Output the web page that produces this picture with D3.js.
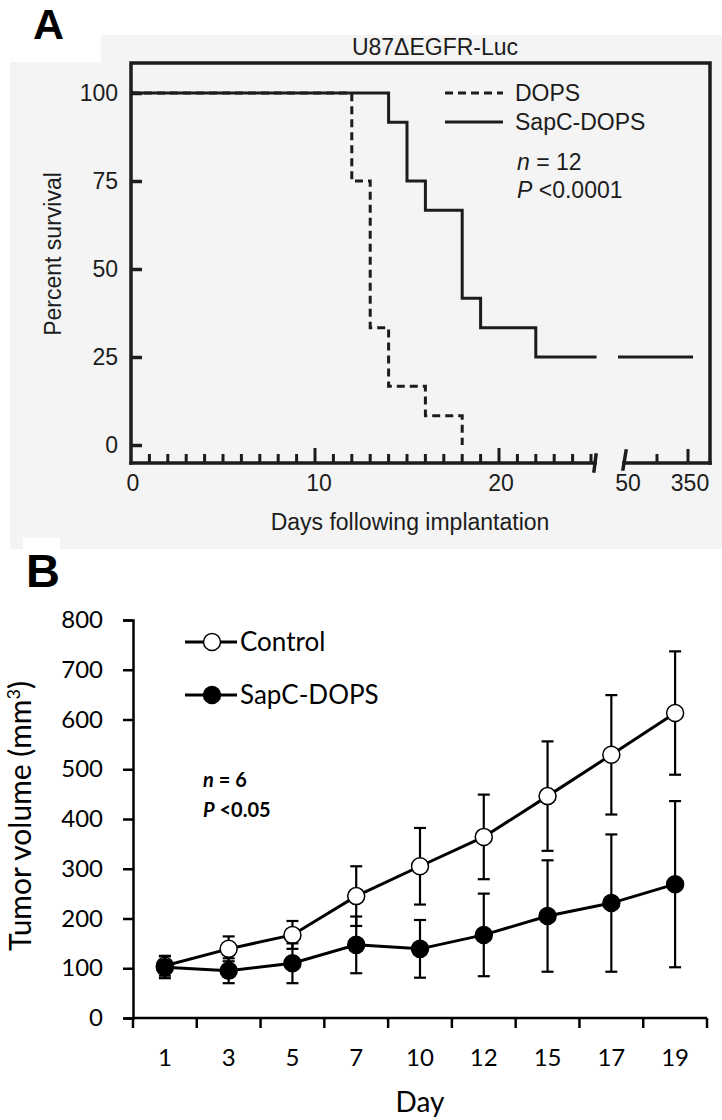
<!DOCTYPE html>
<html>
<head>
<meta charset="utf-8">
<script src="https://cdn.jsdelivr.net/npm/d3@7"></script>
<style>
  body { margin: 0; background: #fff; }
  svg { display: block; }
</style>
</head>
<body>
<div id="chart"></div>
<script>
// ---- panel A data (Kaplan-Meier) ----
const dopsDays = [0, 12, 13, 14, 16, 18];
const dopsSurv = [100, 75, 33.3, 16.7, 8.3, 0];
const sapcDays = [0, 14, 15, 16, 18, 19, 22];
const sapcSurv = [100, 91.7, 75, 66.7, 41.7, 33.3, 25];
const sapcTailEnd = 350;
const aYTicks = [0, 25, 50, 75, 100];
const aXLabels = [0, 10, 20];
const aXLabels2 = [50, 350];
const aXMinor2 = [200];

// ---- panel B data (tumor volume) ----
const days = ["1", "3", "5", "7", "10", "12", "15", "17", "19"];
const controlMean = [105, 139, 167, 245, 305, 364, 446, 529, 613];
const controlErr = [20, 25, 28, 60, 77, 85, 110, 120, 124];
const sapcMean = [102, 95, 110, 147, 139, 167, 205, 231, 269];
const sapcErr = [22, 25, 40, 57, 58, 83, 112, 138, 167];
const bYTicks = d3.range(0, 801, 100);

const W = 722, H = 1120;
const svg = d3.select("#chart").append("svg")
    .attr("width", W)
    .attr("height", H);

const fontA = "'Liberation Sans', Arial, sans-serif";
const fontB = "Lato, 'Open Sans', sans-serif";
const ink = "#1c1c1c";

// ================= Panel A =================
svg.append("rect").attr("x", 10).attr("y", 35).attr("width", 712).attr("height", 514).attr("fill", "#f4f4f4");
svg.append("rect").attr("x", 0).attr("y", 0).attr("width", 101).attr("height", 62).attr("fill", "#fff");
svg.append("rect").attr("x", 23).attr("y", 538).attr("width", 37).attr("height", 12).attr("fill", "#fff");

svg.append("text")
    .attr("x", 33).attr("y", 39)
    .attr("font-family", "'Liberation Sans Narrow', 'Liberation Sans', Arial, sans-serif")
    .attr("font-weight", "bold").attr("font-size", 43)
    .text("A");

const aLeft = 131, aRight = 710, aTop = 63, aBottom = 463;
const x1 = d3.scaleLinear().domain([0, 25]).range([aLeft, 591]);
const x2 = d3.scaleLinear().domain([50, 350]).range([626, 688]);
const yA = d3.scaleLinear().domain([0, 100]).range([445, 93]);

const gA = svg.append("g").attr("fill", ink);

// title
gA.append("text")
    .attr("x", 435).attr("y", 55)
    .attr("text-anchor", "middle")
    .attr("font-family", fontA).attr("font-size", 23)
    .text("U87\u0394EGFR-Luc");

// frame
const frame = gA.append("g").attr("stroke", ink).attr("stroke-width", 3.5).attr("fill", "none").attr("stroke-linecap", "square");
frame.append("path").attr("d", `M${aLeft},${aBottom}V${aTop}H${aRight}V${aBottom}`);
frame.append("line").attr("x1", aLeft).attr("x2", 595).attr("y1", aBottom).attr("y2", aBottom);
frame.append("line").attr("x1", 624).attr("x2", aRight).attr("y1", aBottom).attr("y2", aBottom);
// axis break marks
frame.append("line").attr("x1", 594).attr("x2", 596).attr("y1", 471).attr("y2", 455);
frame.append("line").attr("x1", 623).attr("x2", 626).attr("y1", 469).attr("y2", 451);

// y axis (ticks pointing inward)
const yAxisA = d3.axisLeft(yA).tickValues(aYTicks).tickSize(-11).tickPadding(13);
const gy = gA.append("g").attr("transform", `translate(${aLeft},0)`).call(yAxisA);
gy.select(".domain").remove();
gy.selectAll(".tick line").attr("stroke", ink).attr("stroke-width", 3.5);
gy.selectAll(".tick text").attr("font-family", fontA).attr("font-size", 23).attr("fill", ink);

// x minor / major ticks (inward)
gA.append("g").selectAll("line")
  .data(d3.range(1, 26))
  .join("line")
    .attr("x1", d => x1(d)).attr("x2", d => x1(d))
    .attr("y1", aBottom).attr("y2", d => d % 10 === 0 ? aBottom - 15 : aBottom - 9)
    .attr("stroke", ink).attr("stroke-width", 3);
gA.append("g").selectAll("line")
  .data(aXMinor2.concat([350]))
  .join("line")
    .attr("x1", d => x2(d)).attr("x2", d => x2(d))
    .attr("y1", aBottom).attr("y2", d => d === 350 ? aBottom - 14 : aBottom - 9)
    .attr("stroke", ink).attr("stroke-width", 3);

gA.append("g").selectAll("text")
  .data(aXLabels.map(d => ({v: d, x: x1(d)})).concat(aXLabels2.map(d => ({v: d, x: x2(d)}))))
  .join("text")
    .attr("x", d => d.x + (d.v === 10 ? 4 : 2)).attr("y", 491)
    .attr("text-anchor", "middle")
    .attr("font-family", fontA).attr("font-size", 23)
    .text(d => d.v);

gA.append("text")
    .attr("x", 410).attr("y", 530)
    .attr("text-anchor", "middle")
    .attr("font-family", fontA).attr("font-size", 23)
    .text("Days following implantation");

gA.append("text")
    .attr("transform", "translate(61,254) rotate(-90)")
    .attr("text-anchor", "middle")
    .attr("font-family", fontA).attr("font-size", 23)
    .text("Percent survival");

// survival curves
const stepLine = d3.line().x(d => x1(d[0])).y(d => yA(d[1])).curve(d3.curveStepAfter);
const dopsPts = dopsDays.map((d, i) => [d, dopsSurv[i]]);
const sapcPts = sapcDays.map((d, i) => [d, sapcSurv[i]]).concat([[25.3, 25]]);

gA.append("path")
    .attr("d", stepLine(dopsPts))
    .attr("fill", "none").attr("stroke", ink).attr("stroke-width", 3)
    .attr("stroke-dasharray", "8,5");
gA.append("path")
    .attr("d", stepLine(sapcPts))
    .attr("fill", "none").attr("stroke", ink).attr("stroke-width", 3);
gA.append("line")
    .attr("x1", x2(50) - 8).attr("x2", x2(sapcTailEnd) + 5)
    .attr("y1", yA(25)).attr("y2", yA(25))
    .attr("stroke", ink).attr("stroke-width", 3);

// legend A
const legA = [
  {label: "DOPS", dash: "8,5", y: 93},
  {label: "SapC-DOPS", dash: null, y: 122}
];
const lg = gA.append("g").selectAll("g").data(legA).join("g");
lg.append("line")
    .attr("x1", 445).attr("x2", 503)
    .attr("y1", d => d.y).attr("y2", d => d.y)
    .attr("stroke", ink).attr("stroke-width", 3)
    .attr("stroke-dasharray", d => d.dash);
lg.append("text")
    .attr("x", 515).attr("y", d => d.y + 8)
    .attr("font-family", fontA).attr("font-size", 23)
    .text(d => d.label);

const statA = gA.append("g").attr("font-family", fontA).attr("font-size", 23);
const t1 = statA.append("text").attr("x", 517).attr("y", 170);
t1.append("tspan").attr("font-style", "italic").text("n");
t1.append("tspan").text(" = 12");
const t2 = statA.append("text").attr("x", 517).attr("y", 198);
t2.append("tspan").attr("font-style", "italic").text("P");
t2.append("tspan").text(" <0.0001");

// ================= Panel B =================
svg.append("text")
    .attr("x", 26).attr("y", 587)
    .attr("font-family", "'Liberation Sans', Arial, sans-serif")
    .attr("font-weight", "bold").attr("font-size", 47)
    .text("B");

const bx = d3.scaleBand().domain(days).range([133, 707]);
const by = d3.scaleLinear().domain([0, 800]).range([1018, 620]);
const cx = d => bx(d) + bx.bandwidth() / 2;

const gB = svg.append("g");

const yAxisB = d3.axisLeft(by).tickValues(bYTicks).tickSize(10).tickPadding(20);
const gyb = gB.append("g").attr("transform", "translate(133,0)").call(yAxisB);
gyb.select(".domain").attr("stroke", "#000").attr("stroke-width", 2.5);
gyb.selectAll(".tick line").attr("stroke", "#000").attr("stroke-width", 2.5);
gyb.selectAll(".tick text").attr("font-family", fontB).attr("font-size", 24).attr("fill", "#000");

// x axis (category style: ticks between categories)
gB.append("line")
    .attr("x1", 133).attr("x2", 707).attr("y1", 1018).attr("y2", 1018)
    .attr("stroke", "#000").attr("stroke-width", 2.5);
gB.append("g").selectAll("line")
  .data(days.map(d => bx(d)).concat([bx.range()[1]]))
  .join("line")
    .attr("x1", d => d).attr("x2", d => d)
    .attr("y1", 1018).attr("y2", 1028)
    .attr("stroke", "#000").attr("stroke-width", 2.5);
gB.append("g").selectAll("text")
  .data(days)
  .join("text")
    .attr("x", d => cx(d)).attr("y", 1066)
    .attr("text-anchor", "middle")
    .attr("font-family", fontB).attr("font-size", 24)
    .text(d => d);

gB.append("text")
    .attr("x", 420).attr("y", 1112)
    .attr("text-anchor", "middle")
    .attr("font-family", fontB).attr("font-size", 28)
    .text("Day");

const yt = gB.append("text")
    .attr("transform", "translate(31,816) rotate(-90)")
    .attr("text-anchor", "middle")
    .attr("font-family", fontB).attr("font-size", 30);
yt.append("tspan").text("Tumor volume (mm");
yt.append("tspan").attr("font-size", 18).attr("dy", -11).text("3");
yt.append("tspan").attr("dy", 11).text(")");

// series
const series = [
  {name: "Control", mean: controlMean, err: controlErr, fill: "#fff"},
  {name: "SapC-DOPS", mean: sapcMean, err: sapcErr, fill: "#000"}
];
const line = d3.line().x(d => cx(d.day)).y(d => by(d.v));

series.forEach(s => {
  const pts = days.map((d, i) => ({day: d, v: s.mean[i], e: s.err[i]}));
  const g = gB.append("g");
  const eb = g.append("g").selectAll("g").data(pts).join("g")
      .attr("stroke", "#000").attr("stroke-width", 2.2);
  eb.append("line")
      .attr("x1", d => cx(d.day)).attr("x2", d => cx(d.day))
      .attr("y1", d => by(d.v - d.e)).attr("y2", d => by(d.v + d.e));
  eb.append("line")
      .attr("x1", d => cx(d.day) - 6).attr("x2", d => cx(d.day) + 6)
      .attr("y1", d => by(d.v + d.e)).attr("y2", d => by(d.v + d.e));
  eb.append("line")
      .attr("x1", d => cx(d.day) - 6).attr("x2", d => cx(d.day) + 6)
      .attr("y1", d => by(d.v - d.e)).attr("y2", d => by(d.v - d.e));
  g.append("path")
      .attr("d", line(pts))
      .attr("fill", "none").attr("stroke", "#000").attr("stroke-width", 3);
  g.append("g").selectAll("circle").data(pts).join("circle")
      .attr("cx", d => cx(d.day)).attr("cy", d => by(d.v))
      .attr("r", 8.5)
      .attr("fill", s.fill).attr("stroke", "#000").attr("stroke-width", 1.5);
});

// legend B
const legB = gB.append("g").selectAll("g").data(series).join("g")
    .attr("transform", (d, i) => `translate(0,${642 + i * 53})`);
legB.append("line")
    .attr("x1", 185).attr("x2", 237)
    .attr("stroke", "#000").attr("stroke-width", 3);
legB.append("circle")
    .attr("cx", 212).attr("r", 8.5)
    .attr("fill", d => d.fill).attr("stroke", "#000").attr("stroke-width", 1.5);
legB.append("text")
    .attr("x", 240).attr("y", 9)
    .attr("font-family", fontB).attr("font-size", 26)
    .text(d => d.name);

const statB = gB.append("g").attr("font-family", fontB).attr("font-size", 20).attr("font-weight", "bold");
const s1 = statB.append("text").attr("x", 203).attr("y", 787);
s1.append("tspan").attr("font-style", "italic").text("n");
s1.append("tspan").text(" = 6");
const s2 = statB.append("text").attr("x", 203).attr("y", 817);
s2.append("tspan").attr("font-style", "italic").text("P");
s2.append("tspan").text(" <0.05");
</script>
</body>
</html>
